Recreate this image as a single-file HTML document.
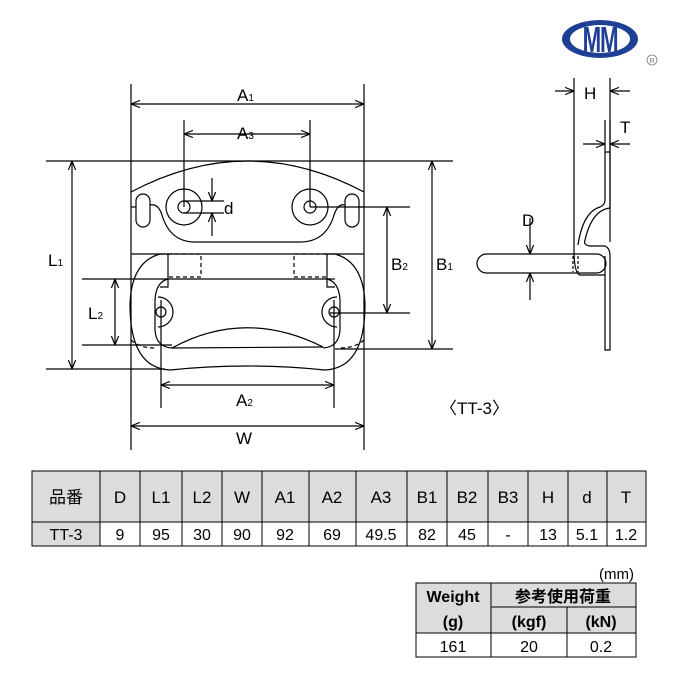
<!DOCTYPE html>
<html><head><meta charset="utf-8"><style>
body{margin:0;background:#fff;}
svg{display:block}
text{font-family:"Liberation Sans","Noto Sans CJK JP",sans-serif;fill:#000}
</style></head><body>
<svg width="680" height="680" viewBox="0 0 680 680" xmlns="http://www.w3.org/2000/svg">
<defs>
<marker id="ar" viewBox="0 0 10 10" refX="10" refY="5" markerWidth="9" markerHeight="9" orient="auto-start-reverse" markerUnits="userSpaceOnUse"><path d="M0,1 L10,5 L0,9" fill="none" stroke="#000" stroke-width="1.3"/></marker>
</defs>
<g stroke="#000" stroke-width="1.2" fill="none">
<line x1="131" y1="84" x2="131" y2="450"/>
<line x1="364" y1="84" x2="364" y2="450"/>
<line x1="184" y1="120" x2="184" y2="207"/>
<line x1="310" y1="120" x2="310" y2="207"/>
<line x1="46" y1="161" x2="453" y2="161"/>
<line x1="46" y1="369" x2="165" y2="369"/>
<line x1="335" y1="349" x2="453" y2="349"/>
<line x1="310" y1="207" x2="410" y2="207"/>
<line x1="330" y1="313" x2="410" y2="313"/>
<line x1="82" y1="279" x2="335" y2="279"/>
<line x1="82" y1="345" x2="172" y2="345"/>
<line x1="161" y1="300" x2="161" y2="408"/>
<line x1="334" y1="300" x2="334" y2="408"/>
<line x1="131" y1="104" x2="364" y2="104" marker-start="url(#ar)" marker-end="url(#ar)"/>
<line x1="184" y1="134" x2="310" y2="134" marker-start="url(#ar)" marker-end="url(#ar)"/>
<line x1="72" y1="161" x2="72" y2="369" marker-start="url(#ar)" marker-end="url(#ar)"/>
<line x1="115" y1="279" x2="115" y2="345" marker-start="url(#ar)" marker-end="url(#ar)"/>
<line x1="432" y1="161" x2="432" y2="349" marker-start="url(#ar)" marker-end="url(#ar)"/>
<line x1="387" y1="207" x2="387" y2="313" marker-start="url(#ar)" marker-end="url(#ar)"/>
<line x1="161" y1="385" x2="334" y2="385" marker-start="url(#ar)" marker-end="url(#ar)"/>
<line x1="131" y1="426" x2="364" y2="426" marker-start="url(#ar)" marker-end="url(#ar)"/>
<line x1="184" y1="201" x2="224" y2="201"/>
<line x1="184" y1="213" x2="224" y2="213"/>
<line x1="212" y1="178" x2="212" y2="201" marker-end="url(#ar)"/>
<line x1="212" y1="236" x2="212" y2="213" marker-end="url(#ar)"/>
<path d="M131,192 Q248,130 364,192"/>
<rect x="136" y="194" width="14" height="33" rx="7"/>
<rect x="345" y="194" width="14" height="33" rx="7"/>
<line x1="131" y1="207" x2="136" y2="207"/>
<line x1="359" y1="207" x2="364" y2="207"/>
<path d="M150,205 Q158,203 162,215 Q170,242 195,242 L300,242 Q326,242 334,215 Q338,203 345,205"/>
<circle cx="184" cy="207" r="18"/><circle cx="184" cy="207" r="6"/>
<circle cx="310" cy="207" r="18"/><circle cx="310" cy="207" r="6"/>
<line x1="131" y1="254" x2="364" y2="254"/>
<path d="M160,254 Q131,262 130,305 Q130,368 170,370 Q247,362 325,370 Q365,368 365,305 Q364,262 335,254"/>
<path d="M160,254 L168,254 L168,287 L160,287"/>
<path d="M335,254 L327,254 L327,287 L335,287"/>
<path d="M168,279 Q156,282 155,300 L155,330 Q156,347 172,348"/>
<path d="M327,279 Q339,282 340,300 L340,330 Q339,347 323,348"/>
<path d="M172,348 L323,347"/>
<path d="M172,348 Q245,308 323,347"/>
<path d="M158,297 A15,15 0 1 1 158,327"/>
<path d="M337,297 A15,15 0 1 0 337,327"/>
<circle cx="161" cy="312" r="5"/><circle cx="334" cy="312" r="5"/>
<g stroke-dasharray="4,3">
<path d="M168,254 L201,254 L201,277 L168,277"/>
<path d="M327,254 L294,254 L294,277 L327,277"/>
<path d="M131,340 Q140,348 155,348"/>
<path d="M364,340 Q355,348 340,348"/>
</g>
<line x1="574" y1="78" x2="574" y2="250"/>
<line x1="610" y1="78" x2="610" y2="242"/>
<line x1="555" y1="91" x2="574" y2="91" marker-end="url(#ar)"/>
<line x1="630" y1="91" x2="610" y2="91" marker-end="url(#ar)"/>
<line x1="583" y1="144" x2="605" y2="144" marker-end="url(#ar)"/>
<line x1="630" y1="144" x2="610" y2="144" marker-end="url(#ar)"/>
<path d="M605,120 L605,200 Q605,205 600,207 Q583,212 578,245"/>
<path d="M610,120 L610,208 Q592,210 585,240 Q583,245 590,246 L605,246 Q610,248 610,256 L610,350 L605,350 L605,256"/>
<line x1="605" y1="152" x2="610" y2="152"/>
<rect x="477" y="254" width="129" height="19" rx="9.5"/>
<line x1="530" y1="218" x2="530" y2="254" marker-end="url(#ar)"/>
<line x1="530" y1="300" x2="530" y2="273" marker-end="url(#ar)"/>
<path d="M574,250 Q574,273 580,275 L605,275" />
<line x1="573" y1="256" x2="573" y2="272" stroke-dasharray="3,2"/>
<line x1="578" y1="256" x2="578" y2="272" stroke-dasharray="3,2"/>
</g>
<g font-size="17">
<text x="237" y="101">A<tspan font-size="10">1</tspan></text>
<text x="237" y="139">A<tspan font-size="10">3</tspan></text>
<text x="224" y="214">d</text>
<text x="48" y="266">L<tspan font-size="10">1</tspan></text>
<text x="88" y="319">L<tspan font-size="10">2</tspan></text>
<text x="391" y="270">B<tspan font-size="10">2</tspan></text>
<text x="436" y="270">B<tspan font-size="10">1</tspan></text>
<text x="236" y="406">A<tspan font-size="10">2</tspan></text>
<text x="236" y="444">W</text>
<text x="440" y="414">〈TT-3〉</text>
<text x="584" y="99">H</text>
<text x="620" y="133">T</text>
<text x="522" y="226">D</text>
</g>
<ellipse cx="600" cy="39" rx="38" ry="19" fill="#1f3f97"/>
<ellipse cx="600" cy="39" rx="30" ry="14" fill="#fff"/>
<text x="600" y="52" text-anchor="middle" font-size="36" font-weight="bold" style="fill:#1f3f97;letter-spacing:-2px" transform="translate(600 0) scale(0.62 1) translate(-600 0)">MM</text>
<circle cx="652" cy="60" r="5" fill="none" stroke="#777" stroke-width="0.8"/>
<text x="652" y="63" text-anchor="middle" font-size="7" style="fill:#777">R</text>
<g stroke="#000" stroke-width="1">
<rect x="32" y="471" width="614" height="51" fill="#dcdcdc"/>
<rect x="32" y="522" width="68" height="24" fill="#dcdcdc"/>
<rect x="100" y="522" width="546" height="24" fill="#fff"/>
<line x1="100" y1="471" x2="100" y2="546"/><line x1="140" y1="471" x2="140" y2="546"/>
<line x1="182" y1="471" x2="182" y2="546"/><line x1="222" y1="471" x2="222" y2="546"/>
<line x1="262" y1="471" x2="262" y2="546"/><line x1="309" y1="471" x2="309" y2="546"/>
<line x1="356" y1="471" x2="356" y2="546"/><line x1="407" y1="471" x2="407" y2="546"/>
<line x1="447" y1="471" x2="447" y2="546"/><line x1="488" y1="471" x2="488" y2="546"/>
<line x1="528" y1="471" x2="528" y2="546"/><line x1="568" y1="471" x2="568" y2="546"/>
<line x1="607" y1="471" x2="607" y2="546"/>
</g>
<g font-size="17" text-anchor="middle">
<text x="66" y="503">品番</text><text x="120" y="503">D</text><text x="161" y="503">L1</text><text x="202" y="503">L2</text>
<text x="242" y="503">W</text><text x="285" y="503">A1</text><text x="332" y="503">A2</text><text x="381" y="503">A3</text>
<text x="427" y="503">B1</text><text x="467" y="503">B2</text><text x="508" y="503">B3</text><text x="548" y="503">H</text>
<text x="587" y="503">d</text><text x="626" y="503">T</text>
</g>
<g font-size="16" text-anchor="middle">
<text x="66" y="540">TT-3</text><text x="120" y="540">9</text><text x="161" y="540">95</text><text x="202" y="540">30</text>
<text x="242" y="540">90</text><text x="285" y="540">92</text><text x="332" y="540">69</text><text x="381" y="540">49.5</text>
<text x="427" y="540">82</text><text x="467" y="540">45</text><text x="508" y="540">-</text><text x="548" y="540">13</text>
<text x="587" y="540">5.1</text><text x="626" y="540">1.2</text>
</g>
<text x="634" y="579" font-size="15" text-anchor="end">(mm)</text>
<g stroke="#000" stroke-width="1">
<rect x="416" y="583" width="220" height="50" fill="#dcdcdc"/>
<rect x="416" y="633" width="220" height="24" fill="#fff"/>
<line x1="491" y1="583" x2="491" y2="657"/>
<line x1="567" y1="607" x2="567" y2="657"/>
<line x1="491" y1="607" x2="636" y2="607"/>
</g>
<g font-size="16" text-anchor="middle">
<text x="453" y="602" font-weight="bold">Weight</text>
<text x="453" y="627" font-weight="bold">(g)</text>
<text x="563" y="602" font-weight="bold">参考使用荷重</text>
<text x="529" y="627" font-weight="bold">(kgf)</text>
<text x="601" y="627" font-weight="bold">(kN)</text>
<text x="453" y="652">161</text><text x="529" y="652">20</text><text x="601" y="652">0.2</text>
</g>
</svg>
</body></html>
